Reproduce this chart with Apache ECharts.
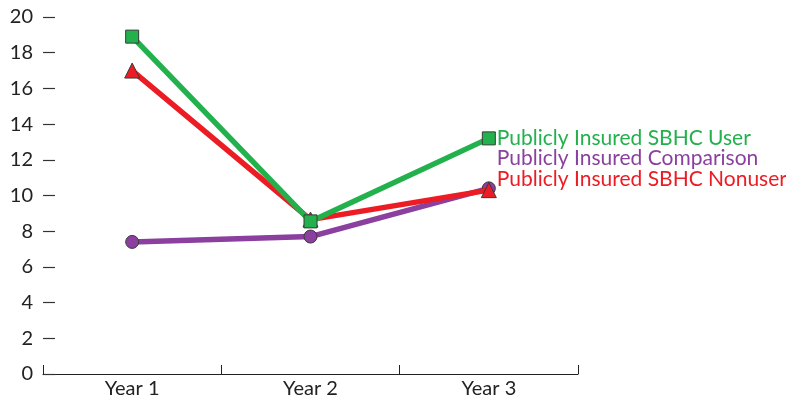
<!DOCTYPE html>
<html>
<head>
<meta charset="utf-8">
<script src="https://cdn.jsdelivr.net/npm/echarts@6/dist/echarts.min.js"></script>
<style>
  html, body { margin: 0; padding: 0; background: #fff; }
  #chart { width: 786px; height: 405px; }
</style>
</head>
<body>
<div id="chart"></div>
<script>
const categories = ['Year 1', 'Year 2', 'Year 3'];
const userValues = [18.9, 8.55, 13.2];
const comparisonValues = [7.4, 7.7, 10.4];
const nonuserValues = [17.0, 8.65, 10.3];
const yTicks = [0, 2, 4, 6, 8, 10, 12, 14, 16, 18, 20];

const FONT = 'Lato';

function lineSeries(name, data, color, symbol, z, labelOffsetY) {
  return {
    name: name,
    type: 'line',
    data: data,
    z: z,
    symbol: symbol,
    symbolSize: symbol === 'triangle' ? 15 : 13,
    lineStyle: { color: color, width: 5.5 },
    itemStyle: { color: color, borderColor: '#3a3a3a', borderWidth: 1 },
    endLabel: {
      show: true,
      formatter: name,
      color: color,
      fontFamily: FONT,
      fontSize: 21,
      offset: [0, labelOffsetY]
    },
    animation: false
  };
}

const chart = echarts.init(document.getElementById('chart'), null, { renderer: 'canvas' });
chart.setOption({
  animation: false,
  grid: { left: 43, right: 208, top: 17, bottom: 31, containLabel: false },
  xAxis: {
    type: 'category',
    data: categories,
    boundaryGap: true,
    axisLine: { lineStyle: { color: '#222', width: 1.2 } },
    axisTick: { show: true, inside: true, length: 9, lineStyle: { color: '#222' } },
    axisLabel: { color: '#222', fontFamily: FONT, fontSize: 20, margin: 5 }
  },
  yAxis: {
    type: 'value',
    min: yTicks[0],
    max: yTicks[yTicks.length - 1],
    interval: 2,
    splitLine: { show: false },
    axisLine: { show: false },
    axisTick: { show: true, inside: true, length: 12, lineStyle: { color: '#333', width: 1.2 } },
    axisLabel: { color: '#222', fontFamily: FONT, fontSize: 20, margin: 10 }
  },
  series: [
    lineSeries('Publicly Insured Comparison', comparisonValues, '#8b3f9e', 'circle', 2, -30),
    lineSeries('Publicly Insured SBHC Nonuser', nonuserValues, '#ec1c24', 'triangle', 3, -11),
    lineSeries('Publicly Insured SBHC User', userValues, '#22b14c', 'rect', 4, 0)
  ]
});
</script>
</body>
</html>
